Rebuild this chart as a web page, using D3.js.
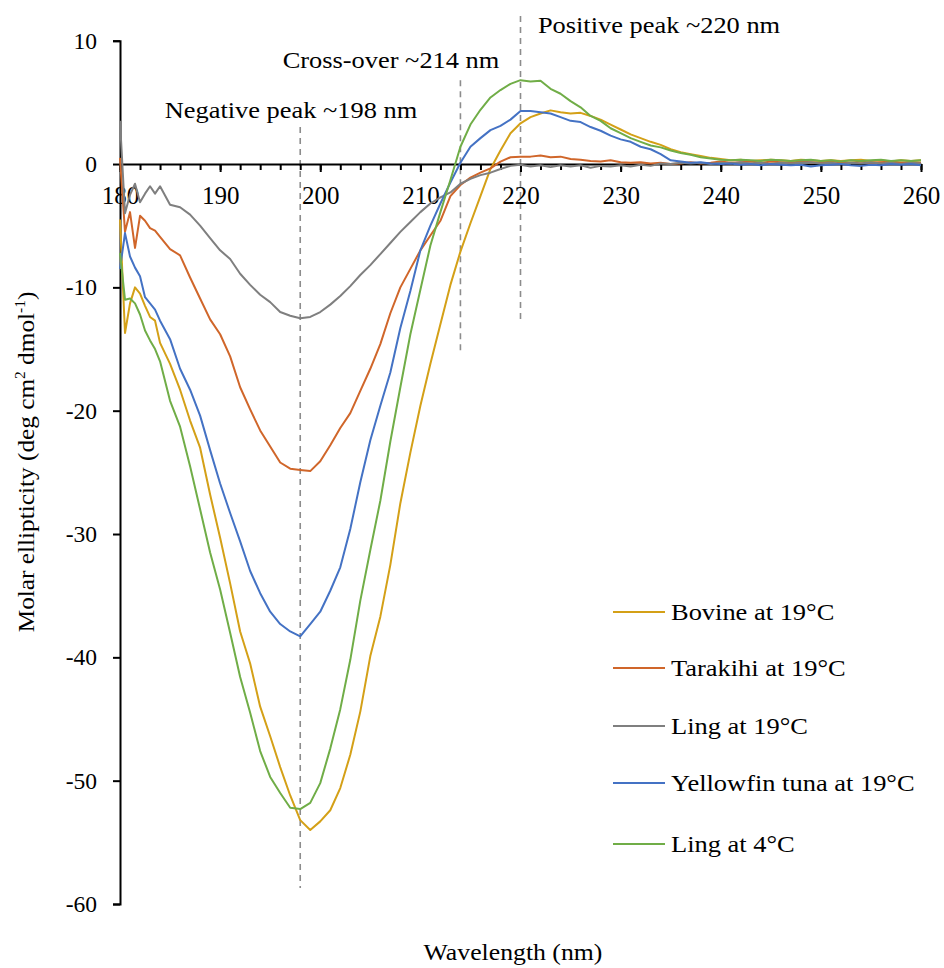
<!DOCTYPE html>
<html>
<head>
<meta charset="utf-8">
<script src="https://cdn.jsdelivr.net/npm/d3@7"></script>
<style>
  html, body { margin: 0; padding: 0; background: #fff; }
</style>
</head>
<body>
<svg id="chart" width="944" height="968"></svg>
<script>
// Wavelength grid (nm): half-nm steps at the start, 1 nm afterwards
const wavelengths = [180, 180.5, 181, 181.5, 182, 182.5, 183, 183.5, 184,
  185, 186, 187, 188, 189, 190, 191, 192, 193, 194, 195, 196, 197, 198, 199, 200,
  201, 202, 203, 204, 205, 206, 207, 208, 209, 210, 211, 212, 213, 214, 215, 216,
  217, 218, 219, 220, 221, 222, 223, 224, 225, 226, 227, 228, 229, 230, 231, 232,
  233, 234, 235, 236, 237, 238, 239, 240, 241, 242, 243, 244, 245, 246, 247, 248,
  249, 250, 251, 252, 253, 254, 255, 256, 257, 258, 259, 260];

// Molar ellipticity for each sample (deg cm2 dmol-1)
const bovine19 = [-4.5, -13.7, -11.3, -10.0, -10.5, -11.5, -12.4, -12.7, -14.5,
  -16.2, -18.3, -20.8, -23.0, -26.8, -30.3, -34.0, -37.9, -40.5, -44.0, -46.4, -48.9, -51.2, -53.2, -54.0, -53.3,
  -52.4, -50.6, -47.9, -44.4, -39.9, -36.7, -32.5, -27.5, -23.4, -19.6, -16.2, -13.0, -9.8, -7.1, -4.8, -2.6,
  -0.4, 1.1, 2.5, 3.3, 3.8, 4.1, 4.35, 4.2, 4.1, 4.15, 3.9, 3.6, 3.2, 2.8, 2.4, 2.1,
  1.8, 1.55, 1.2, 0.95, 0.8, 0.65, 0.5, 0.4, 0.3, 0.35, 0.25, 0.3, 0.35, 0.3, 0.25, 0.35,
  0.3, 0.25, 0.3, 0.25, 0.3, 0.35, 0.25, 0.3, 0.2, 0.3, 0.25, 0.3];

const tarakihi19 = [0.5, -5.5, -3.9, -6.8, -4.2, -4.6, -5.2, -5.4, -5.9,
  -6.9, -7.4, -9.2, -10.9, -12.6, -13.8, -15.6, -18.1, -19.9, -21.6, -22.9, -24.2, -24.7, -24.8, -24.9, -24.1,
  -22.8, -21.4, -20.2, -18.4, -16.6, -14.6, -12.1, -10.0, -8.5, -7.0, -5.8, -4.6, -2.6, -1.7, -1.1, -0.7,
  -0.35, 0.2, 0.55, 0.6, 0.6, 0.7, 0.55, 0.6, 0.4, 0.35, 0.25, 0.2, 0.3, 0.15, 0.1, 0.15,
  0.05, 0.1, 0.0, 0.05, 0.15, 0.05, 0.1, 0.2, 0.1, 0.15, 0.2, 0.1, 0.2, 0.15, 0.1, 0.2,
  0.15, 0.1, 0.2, 0.15, 0.1, 0.2, 0.1, 0.15, 0.2, 0.1, 0.15, 0.1];

const ling19 = [3.5, -4.0, -2.5, -1.6, -3.1, -2.4, -1.8, -2.4, -1.8,
  -3.3, -3.5, -4.1, -5.0, -6.0, -7.0, -7.7, -8.9, -9.8, -10.6, -11.2, -12.0, -12.3, -12.5, -12.4, -12.0,
  -11.4, -10.7, -9.9, -9.0, -8.2, -7.3, -6.4, -5.5, -4.7, -3.9, -3.2, -2.7, -2.3, -1.6, -1.2, -0.9,
  -0.7, -0.4, -0.15, -0.05, -0.2, -0.1, -0.25, -0.1, -0.2, -0.1, -0.3, -0.15, -0.2, -0.1, -0.2, -0.05,
  -0.15, 0.05, 0.0, 0.1, 0.05, 0.1, 0.0, 0.1, 0.05, 0.15, 0.05, 0.1, 0.0, 0.1, 0.05, 0.1,
  0.15, 0.05, 0.1, 0.0, 0.1, 0.05, 0.15, 0.05, 0.1, 0.0, 0.1, 0.05];

const yellowfin19 = [-8.5, -5.6, -7.5, -8.4, -9.1, -10.8, -11.3, -11.8, -12.7,
  -14.2, -16.6, -18.3, -20.4, -23.2, -25.9, -28.3, -30.6, -33.0, -34.8, -36.3, -37.3, -37.9, -38.3, -37.3, -36.3,
  -34.6, -32.7, -29.6, -25.8, -22.4, -19.6, -16.9, -13.3, -10.3, -7.0, -5.0, -3.2, -1.5, 0.1, 1.4, 2.1,
  2.75, 3.1, 3.6, 4.3, 4.3, 4.2, 4.1, 3.8, 3.5, 3.4, 3.0, 2.7, 2.3, 2.0, 1.8, 1.4,
  1.2, 0.8, 0.3, 0.2, 0.1, 0.15, 0.05, 0.0, 0.05, -0.05, 0.0, -0.1, 0.0, -0.05, -0.1, -0.05,
  -0.2, -0.1, -0.05, 0.0, -0.1, -0.15, -0.05, -0.1, 0.0, -0.05, 0.0, -0.1];

const ling4 = [-7.2, -11.0, -10.9, -11.3, -12.2, -13.5, -14.3, -15.0, -16.0,
  -19.2, -21.3, -24.5, -28.0, -31.5, -34.5, -38.0, -41.6, -44.5, -47.6, -49.7, -51.0, -52.2, -52.3, -51.8, -50.2,
  -47.4, -44.2, -40.2, -35.4, -31.3, -27.3, -22.5, -18.1, -13.8, -10.2, -6.6, -3.9, -1.3, 1.4, 3.2, 4.4,
  5.4, 6.0, 6.5, 6.8, 6.7, 6.75, 6.1, 5.7, 5.1, 4.6, 3.9, 3.5, 2.9, 2.5, 2.1, 1.8,
  1.5, 1.35, 1.1, 0.9, 0.75, 0.55, 0.45, 0.35, 0.3, 0.35, 0.3, 0.25, 0.35, 0.3, 0.25, 0.3,
  0.35, 0.25, 0.3, 0.2, 0.3, 0.25, 0.3, 0.35, 0.25, 0.3, 0.25, 0.3];

const seriesNames = ["Bovine at 19\u00B0C", "Tarakihi at 19\u00B0C", "Ling at 19\u00B0C",
  "Yellowfin tuna at 19\u00B0C", "Ling at 4\u00B0C"];
const seriesValues = [bovine19, tarakihi19, ling19, yellowfin19, ling4];
const seriesColors = ["#D4A017", "#D0662A", "#7F7F7F", "#4472C4", "#70AD47"];

// Axis ticks
const xMajorTicks = [180, 190, 200, 210, 220, 230, 240, 250, 260];
const xMinorTicks = d3.range(180, 261, 2);
const yTicks = [10, 0, -10, -20, -30, -40, -50, -60];

// Reference markers: wavelength, caption, dashed extent in ellipticity units
const markerNm = [198, 214, 220];
const markerLabels = ["Negative peak ~198 nm", "Cross-over ~214 nm", "Positive peak ~220 nm"];
const markerTop = [3.0, 6.8, 12.0];
const markerBottom = [-58.7, -15.4, -12.9];

const FONT = "\"Liberation Serif\", \"Times New Roman\", serif";

const svg = d3.select("#chart");
const x = d3.scaleLinear().domain([180, 260]).range([120, 921]);
const y = d3.scaleLinear().domain([-60, 10]).range([904, 40.7]);

// Text with a slightly widened glyph run
function wideText(parent, px, py, str, size, anchor, sx, rot) {
  const t = parent.append("text")
    .attr("transform", `translate(${px},${py})${rot ? " rotate(" + rot + ")" : ""} scale(${sx},1)`)
    .attr("text-anchor", anchor)
    .attr("font-family", FONT)
    .attr("font-size", size)
    .attr("fill", "#000");
  if (str !== null) t.text(str);
  return t;
}

// Dashed reference lines
const markers = svg.append("g");
markerNm.forEach((nm, i) => {
  markers.append("line")
    .attr("x1", x(nm)).attr("x2", x(nm))
    .attr("y1", y(markerTop[i])).attr("y2", y(markerBottom[i]))
    .attr("stroke", "#8C8C8C").attr("stroke-width", 1.6)
    .attr("stroke-dasharray", "6,5");
});

// Marker captions
const captionPos = [[291, 118], [391, 68], [659, 33]];
markerLabels.forEach((t, i) => {
  wideText(svg, captionPos[i][0], captionPos[i][1], t, 24, "middle", 1.1);
});

// Y axis (left)
const yAxis = d3.axisLeft(y).tickValues(yTicks).tickSize(7).tickPadding(16)
  .tickFormat(d => String(d));
const gy = svg.append("g").attr("transform", `translate(${x(180)},0)`).call(yAxis);
gy.attr("font-family", FONT);
gy.select(".domain").attr("stroke", "#000").attr("stroke-width", 2);
gy.selectAll(".tick line").attr("stroke", "#000").attr("stroke-width", 2);
gy.selectAll(".tick text").attr("font-size", 23.5).attr("font-family", FONT);

// X axis drawn through zero
const gxMinor = svg.append("g").attr("transform", `translate(0,${y(0)})`)
  .call(d3.axisBottom(x).tickValues(xMinorTicks).tickSize(6).tickFormat(""));
gxMinor.select(".domain").remove();
gxMinor.selectAll(".tick line").attr("stroke", "#000").attr("stroke-width", 2);

const gx = svg.append("g").attr("transform", `translate(0,${y(0)})`)
  .call(d3.axisBottom(x).tickValues(xMajorTicks).tickSize(8).tickPadding(14)
    .tickSizeOuter(0).tickFormat(d => String(d)));
gx.attr("font-family", FONT);
gx.select(".domain").attr("stroke", "#000").attr("stroke-width", 2);
gx.selectAll(".tick line").attr("stroke", "#000").attr("stroke-width", 2);
gx.selectAll(".tick text").attr("font-size", 25).attr("font-family", FONT);

// Spectra
const line = d3.line()
  .x((d, i) => x(wavelengths[i]))
  .y(d => y(d));
const plot = svg.append("g");
seriesValues.forEach((vals, s) => {
  plot.append("path")
    .datum(vals)
    .attr("fill", "none")
    .attr("stroke", seriesColors[s])
    .attr("stroke-width", 2)
    .attr("stroke-linejoin", "round")
    .attr("d", line);
});

// Axis titles
wideText(svg, 513, 960, "Wavelength (nm)", 23, "middle", 1.12);

const yTitle = wideText(svg, 34, 462, null, 23, "middle", 1.1, -90);
yTitle.append("tspan").text("Molar ellipticity (deg cm");
yTitle.append("tspan").attr("font-size", 14).attr("dy", -9).text("2");
yTitle.append("tspan").attr("dy", 9).text(" dmol");
yTitle.append("tspan").attr("font-size", 14).attr("dy", -9).text("-1");
yTitle.append("tspan").attr("dy", 9).text(")");

// Legend
const legendY = [612, 668, 726, 783, 844];
const legend = svg.append("g");
seriesNames.forEach((name, i) => {
  legend.append("line")
    .attr("x1", 613).attr("x2", 665)
    .attr("y1", legendY[i]).attr("y2", legendY[i])
    .attr("stroke", seriesColors[i]).attr("stroke-width", 2);
  wideText(legend, 671, legendY[i] + 8, name, 23, "start", 1.15);
});
</script>
</body>
</html>
